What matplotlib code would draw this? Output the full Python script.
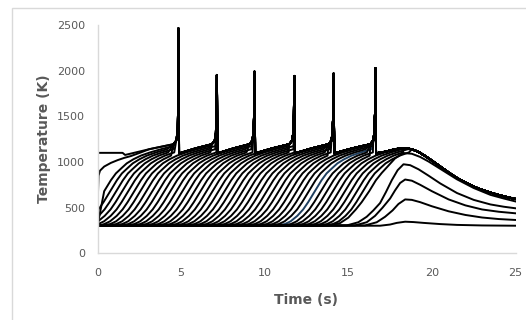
import numpy as np
import matplotlib.pyplot as plt
from matplotlib.patches import Rectangle

# spikes at the front (time in s, peak in K)
spike_t = [4.84, 7.14, 9.39, 11.77, 14.12, 16.62]
spike_peak = [2464, 1953, 1989, 1942, 1967, 2026]
# shape of the spike foot, relative to the spike time
foot_dt = [-0.30, -0.13, -0.06, -0.025]
foot_T = [1195, 1235, 1320, 1520]
drop_dt = 0.04
saw_floor = 1095

# hot node at the start
hot_t = [0, 1.5, 1.65]
hot_T = [1100, 1100, 1077]

# front after the last spike
cool_t = [17.2, 17.8, 18.3, 18.8, 19.2, 19.6, 20.0, 20.5, 21.0, 21.5, 22.0, 22.5, 23.0, 23.5, 24.0, 24.5, 25.0]
cool_T = [1112, 1140, 1152, 1140, 1110, 1065, 1015, 950, 885, 825, 775, 730, 695, 665, 638, 615, 595]

# heating of one node, relative to the time it passes ~680 K
rise_dt = [-3.1, -2.35, -1.8, -1.45, -1.05, -0.7, -0.4, 0, 0.4, 0.7, 1.05, 1.35, 1.75, 2.2, 2.75, 3.4, 4.15, 5.2]
rise_T = [300, 305, 320, 350, 410, 480, 560, 680, 800, 875, 935, 985, 1030, 1070, 1105, 1140, 1175, 1210]

# time each node passes ~680 K
mids = [0.40, 0.76, 1.12, 1.48, 1.84, 2.20, 2.56, 2.92, 3.28, 3.64, 4.00, 4.36, 4.72,
        5.08, 5.44, 5.80, 6.16, 6.52, 6.88, 7.24, 7.60, 7.96, 8.32, 8.68, 9.04, 9.40,
        9.76, 10.12, 10.48, 10.84, 11.20, 11.56, 11.92, 12.28, 12.64, 13.00, 13.36,
        13.72, 14.08, 14.44, 14.80, 15.16, 15.52, 15.88]

# node next to the wall
first_t = [0, 0.02, 0.06, 0.15, 0.4, 0.8, 1.2, 1.6, 2.0, 2.6]
first_T = [300, 600, 850, 905, 950, 990, 1020, 1045, 1065, 1105]

# late nodes
tailA_t = [0, 13.8, 14.5, 15.0, 15.45, 15.8, 16.25, 16.65, 17.0, 17.35, 17.8, 18.3, 18.8, 19.3, 19.8, 20.5, 21.5, 22.5, 23.5, 24.3, 25]
tailA_T = [300, 305, 330, 390, 480, 560, 680, 800, 880, 950, 1040, 1098, 1090, 1055, 1005, 925, 810, 715, 640, 600, 568]
tailB_t = [0, 14.9, 15.6, 16.1, 16.5, 16.9, 17.25, 17.6, 17.95, 18.3, 18.7, 19.2, 19.8, 20.5, 21.5, 22.5, 23.5, 24.3, 25]
tailB_T = [300, 305, 340, 400, 470, 550, 670, 800, 910, 975, 965, 920, 850, 765, 660, 585, 535, 510, 493]
tailC_t = [0, 15.4, 16.1, 16.6, 17.05, 17.5, 17.8, 18.1, 18.4, 18.8, 19.3, 20.0, 21.0, 22.0, 23.0, 24.0, 25]
tailC_T = [300, 305, 340, 410, 500, 600, 690, 770, 808, 795, 750, 680, 590, 525, 480, 455, 438]
tailD_t = [0, 16.0, 16.7, 17.2, 17.65, 18.0, 18.4, 18.8, 19.3, 20.0, 21.0, 22.0, 23.0, 24.0, 25]
tailD_T = [300, 305, 340, 400, 470, 540, 590, 585, 560, 515, 460, 420, 392, 375, 365]
tailE_t = [0, 16.9, 17.5, 17.9, 18.4, 18.9, 19.5, 20.5, 21.5, 23.0, 25]
tailE_T = [300, 302, 315, 333, 346, 342, 333, 320, 311, 305, 302]

# build the front (sawtooth + spikes + cooling)
env_t = [hot_t[-1]]
env_T = [hot_T[-1]]
for ts, pk in zip(spike_t, spike_peak):
    t0, T0 = env_t[-1], env_T[-1]
    t1 = ts + foot_dt[0]
    env_t.append((t0 + t1) / 2)
    env_T.append((T0 + foot_T[0]) / 2 + 4)
    for d, v in zip(foot_dt, foot_T):
        env_t.append(ts + d)
        env_T.append(v)
    env_t += [ts, ts + drop_dt]
    env_T += [pk, saw_floor]
env_t += cool_t
env_T += cool_T
env_t = np.array(env_t)
env_T = np.array(env_T)


def node_curve(m):
    t = m + np.array(rise_dt)
    T = np.array(rise_T, dtype=float)
    e = np.interp(t, env_t, env_T)
    hit = np.nonzero(T >= e)[0]
    n = hit[0] if len(hit) else len(t)
    t, T = t[:n], T[:n]
    keep = t > 0
    t = np.concatenate([[0], t[keep]])
    T = np.concatenate([[300], T[keep]])
    after = env_t > t[-1]
    return np.concatenate([t, env_t[after]]), np.concatenate([T, env_T[after]])


fig = plt.figure(figsize=(5.26, 3.2), dpi=100)
fig.patches.append(Rectangle((12 / 526, -0.1), 1.2, 1.1 - 8 / 320, transform=fig.transFigure,
                             fill=False, edgecolor='#D9D9D9', linewidth=1.0))
ax = fig.add_axes([97.5 / 526, 66.7 / 320, 418 / 526, 228.3 / 320])

lw = 1.4
ax.plot(hot_t + list(env_t[1:]), hot_T + list(env_T[1:]), color='black', lw=lw)
ft = np.array(first_t)
ax.plot(np.concatenate([ft, env_t[env_t > ft[-1]]]),
        np.concatenate([first_T, env_T[env_t > ft[-1]]]), color='black', lw=lw)
for m in mids:
    ct, cT = node_curve(m)
    if abs(m - 13.0) < 0.01:
        ax.plot(ct, cT, color='#1F3F5F', lw=lw, zorder=1)
    else:
        ax.plot(ct, cT, color='black', lw=lw, zorder=2)
for tt, TT in [(tailA_t, tailA_T), (tailB_t, tailB_T), (tailC_t, tailC_T),
               (tailD_t, tailD_T), (tailE_t, tailE_T)]:
    ax.plot(tt, TT, color='black', lw=lw)

ax.set_xlim(0, 25)
ax.set_ylim(0, 2500)
ax.set_xticks([0, 5, 10, 15, 20, 25])
ax.set_yticks([0, 500, 1000, 1500, 2000, 2500])
for s in ['top', 'right']:
    ax.spines[s].set_visible(False)
for s in ['left', 'bottom']:
    ax.spines[s].set_color('#D9D9D9')
    ax.spines[s].set_linewidth(1.0)
ax.tick_params(length=0, labelsize=8, labelcolor='#595959', pad=9)
ax.tick_params(axis='x', pad=10.5)
ax.set_xlabel('Time (s)', fontsize=10, fontweight='bold', color='#595959', labelpad=11)
ax.set_ylabel('Temperature (K)', fontsize=10, fontweight='bold', color='#595959', labelpad=4)

plt.savefig('out.png', dpi=100)
